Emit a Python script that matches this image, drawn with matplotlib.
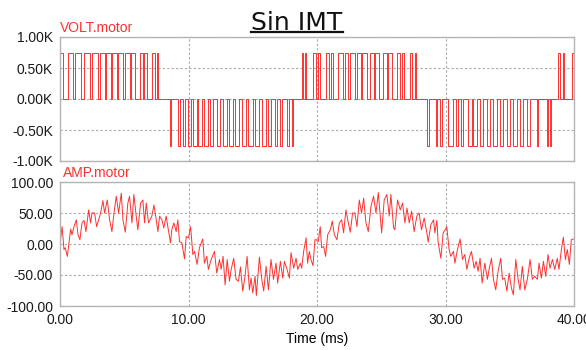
import matplotlib
matplotlib.use('Agg')
import matplotlib.pyplot as plt
from matplotlib.lines import Line2D
from matplotlib.ticker import FuncFormatter

# ---- data ----
volt_level = 750.0  # V

# pulses as (start ms, end ms)
pos_pulses = [
    (0.00, 0.23), (0.62, 1.01), (1.19, 1.61), (1.87, 2.31), (2.52, 2.96),
    (3.09, 3.48), (3.55, 3.94), (4.05, 4.46), (4.51, 4.90), (5.03, 5.42),
    (5.55, 5.81), (6.20, 6.46), (6.54, 6.80), (7.16, 7.37), (7.55, 7.63),
    (18.81, 18.89), (19.07, 19.14), (19.71, 19.92), (20.05, 20.23),
    (20.67, 20.96), (21.06, 21.27), (21.61, 22.00), (22.18, 22.44),
    (22.57, 22.96), (23.09, 23.40), (23.48, 23.87), (24.12, 24.44),
    (24.51, 24.85), (25.11, 25.42), (25.55, 25.81), (26.20, 26.46),
    (26.59, 26.77), (27.24, 27.37), (27.63, 27.70),
    (38.78, 38.91), (39.12, 39.22), (39.82, 40.00),
]
neg_pulses = [
    (8.56, 8.66), (9.21, 9.34), (9.55, 9.73), (9.99, 10.17), (10.32, 10.64),
    (10.76, 11.02), (11.21, 11.54), (11.67, 11.93), (12.19, 12.45),
    (12.66, 12.97), (13.18, 13.49), (13.62, 13.95), (14.14, 14.47),
    (14.66, 15.00), (15.18, 15.51), (15.69, 16.03), (16.21, 16.40),
    (16.73, 16.91), (17.12, 17.25), (17.69, 17.85), (18.03, 18.16),
    (28.59, 28.69), (29.24, 29.36), (29.57, 29.73), (30.22, 30.61),
    (30.79, 31.00), (31.18, 31.39), (31.78, 32.04), (32.17, 32.43),
    (32.68, 32.94), (33.20, 33.46), (33.72, 33.98), (34.24, 34.50),
    (34.76, 35.02), (35.28, 35.54), (35.80, 36.06), (36.32, 36.58),
    (37.09, 37.22), (37.87, 37.95), (38.13, 38.21),
]

amp_t = [
    0.00, 0.16, 0.31, 0.41, 0.57, 0.83, 0.93, 1.09, 1.27, 1.40, 1.55, 1.71,
    1.87, 2.02, 2.23, 2.38, 2.49, 2.69, 2.85, 3.01, 3.16, 3.34, 3.47, 3.68,
    3.86, 4.04, 4.20, 4.38, 4.56, 4.77, 4.90, 5.08, 5.28, 5.41, 5.60, 5.75,
    5.93, 6.06, 6.27, 6.45, 6.58, 6.71, 6.89, 7.15, 7.31, 7.49, 7.62, 7.75,
    7.93, 8.08, 8.26, 8.39, 8.60, 8.70, 8.86, 9.04, 9.17, 9.30, 9.48, 9.69,
    9.82, 10.00, 10.16, 10.34, 10.47, 10.67, 10.85, 11.11, 11.24, 11.42,
    11.55, 11.76, 12.02, 12.20, 12.41, 12.54, 12.69, 12.85, 13.01, 13.19,
    13.32, 13.52, 13.70, 13.89, 14.04, 14.22, 14.40, 14.56, 14.74, 14.87,
    15.00, 15.18, 15.28, 15.52, 15.70, 15.85, 16.04, 16.22, 16.42, 16.61,
    16.81, 16.94, 17.15, 17.33, 17.46, 17.67, 17.85, 17.98, 18.19, 18.37,
    18.50, 18.70, 18.81, 18.96, 19.15, 19.27, 19.40, 19.53, 19.69, 19.84,
    19.92, 20.10, 20.25, 20.36, 20.52, 20.67, 20.83, 21.04, 21.19, 21.35,
    21.55, 21.74, 21.92, 22.07, 22.25, 22.44, 22.59, 22.77, 22.95, 23.11,
    23.29, 23.47, 23.63, 23.81, 23.99, 24.20, 24.40, 24.59, 24.77, 24.92,
    25.03, 25.23, 25.44, 25.62, 25.75, 25.96, 26.06, 26.27, 26.48, 26.66,
    26.84, 27.00, 27.18, 27.36, 27.56, 27.77, 27.95, 28.13, 28.34, 28.55,
    28.65, 28.86, 29.07, 29.17, 29.33, 29.43, 29.64, 29.82, 29.97, 30.10,
    30.28, 30.41, 30.62, 30.73, 30.93, 31.14, 31.32, 31.50, 31.66, 31.84,
    32.02, 32.23, 32.38, 32.54, 32.69, 32.85, 33.06, 33.26, 33.39, 33.58,
    33.73, 33.91, 34.09, 34.30, 34.43, 34.61, 34.77, 34.95, 35.13, 35.28,
    35.47, 35.65, 35.80, 35.98, 36.17, 36.37, 36.58, 36.76, 36.94, 37.15,
    37.28, 37.46, 37.62, 37.80, 37.98, 38.13, 38.32, 38.50, 38.70, 38.83,
    39.02, 39.17, 39.33, 39.48, 39.64, 39.79, 39.95,
]
amp_v = [
    0, 28, -9, -6, -20, 24, 15, 28, 39, 15, 7, 34,
    38, 20, 55, 34, 50, 50, 28, 39, 50, 70, 50, 71,
    39, 20, 50, 77, 50, 82, 39, 19, 66, 77, 34, 80,
    45, 23, 66, 71, 34, 66, 34, 45, 63, 39, 20, 45,
    39, 26, 45, 28, 2, 23, 34, 20, 39, 4, 2, -24,
    12, 10, 28, -17, -12, -33, -6, 8, -31, -20,
    -41, -25, -12, -47, -25, -41, -20, -66, -25, -60,
    -41, -23, -57, -60, -37, -76, -52, -20, -74, -55,
    -79, -52, -83, -21, -57, -76, -36, -74, -25, -57,
    -31, -63, -28, -55, -28, -41, -55, -14, -39, -23,
    -41, -31, -39, -12, 10, -31, -12, -25, -35, 7,
    7, 4, 28, -6, -4, -20, 15, 23, 37, 15,
    7, 34, 39, 18, 55, 34, 19, 50, 50, 28,
    71, 50, 74, 34, 20, 61, 77, 50, 83, 45,
    18, 71, 80, 45, 80, 26, 23, 71, 55, 66,
    34, 58, 34, 53, 20, 45, 50, 23, 42, 18,
    3, 31, 39, 18, 38, 2, -23, 18, 23, 28,
    -9, -20, -12, -31, -9, 8, -25, -17, -41, -23,
    -12, -39, -28, -44, -23, -63, -31, -57, -41, -23,
    -57, -74, -44, -23, -57, -55, -76, -47, -71, -82,
    -25, -57, -74, -36, -74, -57, -25, -57, -52, -57,
    -31, -55, -28, -52, -17, -39, -25, -41, -23, -41,
    -9, 11, -25, -9, -33, 7, 8,
]

# switching events -> step trace
events = sorted([(a, volt_level) for a, b in pos_pulses] + [(b, 0.0) for a, b in pos_pulses]
                + [(a, -volt_level) for a, b in neg_pulses] + [(b, 0.0) for a, b in neg_pulses])
volt_t = [e[0] for e in events]
volt_v = [e[1] for e in events]

# ---- style ----
plt.rcParams['font.family'] = ['Liberation Sans', 'DejaVu Sans']
plt.rcParams['font.size'] = 10
red = '#ff3030'
spine_col = '#b4b4b4'
grid_kw = dict(color='#a8a8a8', linestyle=(0, (2, 2)), linewidth=0.8)

fig = plt.figure(figsize=(5.86, 3.5), dpi=100)
ax1 = fig.add_axes([60 / 586, 1 - 161 / 350, 514 / 586, 124 / 350])
ax2 = fig.add_axes([60 / 586, 1 - 306 / 350, 514 / 586, 124 / 350])

ax1.plot(volt_t, volt_v, drawstyle='steps-post', color=red, lw=0.7)
ax1.set_ylim(-1000, 1000)
ax1.set_yticks([-1000, -500, 0, 500, 1000])
ax1.yaxis.set_major_formatter(FuncFormatter(lambda v, p: '%.2fK' % (v / 1000)))
ax1.set_xticklabels([])

ax2.plot(amp_t, amp_v, color=red, lw=0.7)
ax2.set_ylim(-100, 100)
ax2.set_yticks([-100, -50, 0, 50, 100])
ax2.yaxis.set_major_formatter(FuncFormatter(lambda v, p: '%.2f' % v))
ax2.xaxis.set_major_formatter(FuncFormatter(lambda v, p: '%.2f' % v))
ax2.set_xlabel('Time (ms)', fontsize=10, labelpad=4)

for ax in (ax1, ax2):
    ax.set_xlim(0, 40)
    ax.set_xticks([0, 10, 20, 30, 40])
    ax.grid(True, **grid_kw)
    ax.tick_params(length=0, pad=5, labelsize=10, colors='#1a1a1a')
    for s in ax.spines.values():
        s.set_color(spine_col)
        s.set_linewidth(1.0)

fig.text(60 / 586, 1 - 32 / 350, 'VOLT.motor', color=red, fontsize=10, va='baseline')
fig.text(63 / 586, 1 - 177 / 350, 'AMP.motor', color=red, fontsize=10, va='baseline')

title = fig.text(297 / 586, 1 - 29.5 / 350, 'Sin IMT', ha='center', va='baseline',
                 fontsize=18, family='DejaVu Sans', color='#111111')
fig.canvas.draw()
bb = title.get_window_extent()
x0, _ = fig.transFigure.inverted().transform((bb.x0, bb.y0))
x1, _ = fig.transFigure.inverted().transform((bb.x1, bb.y0))
fig.add_artist(Line2D([x0, x1], [1 - 32 / 350] * 2, transform=fig.transFigure,
                      color='#111111', lw=1.6))

fig.savefig('out.png', dpi=100)
